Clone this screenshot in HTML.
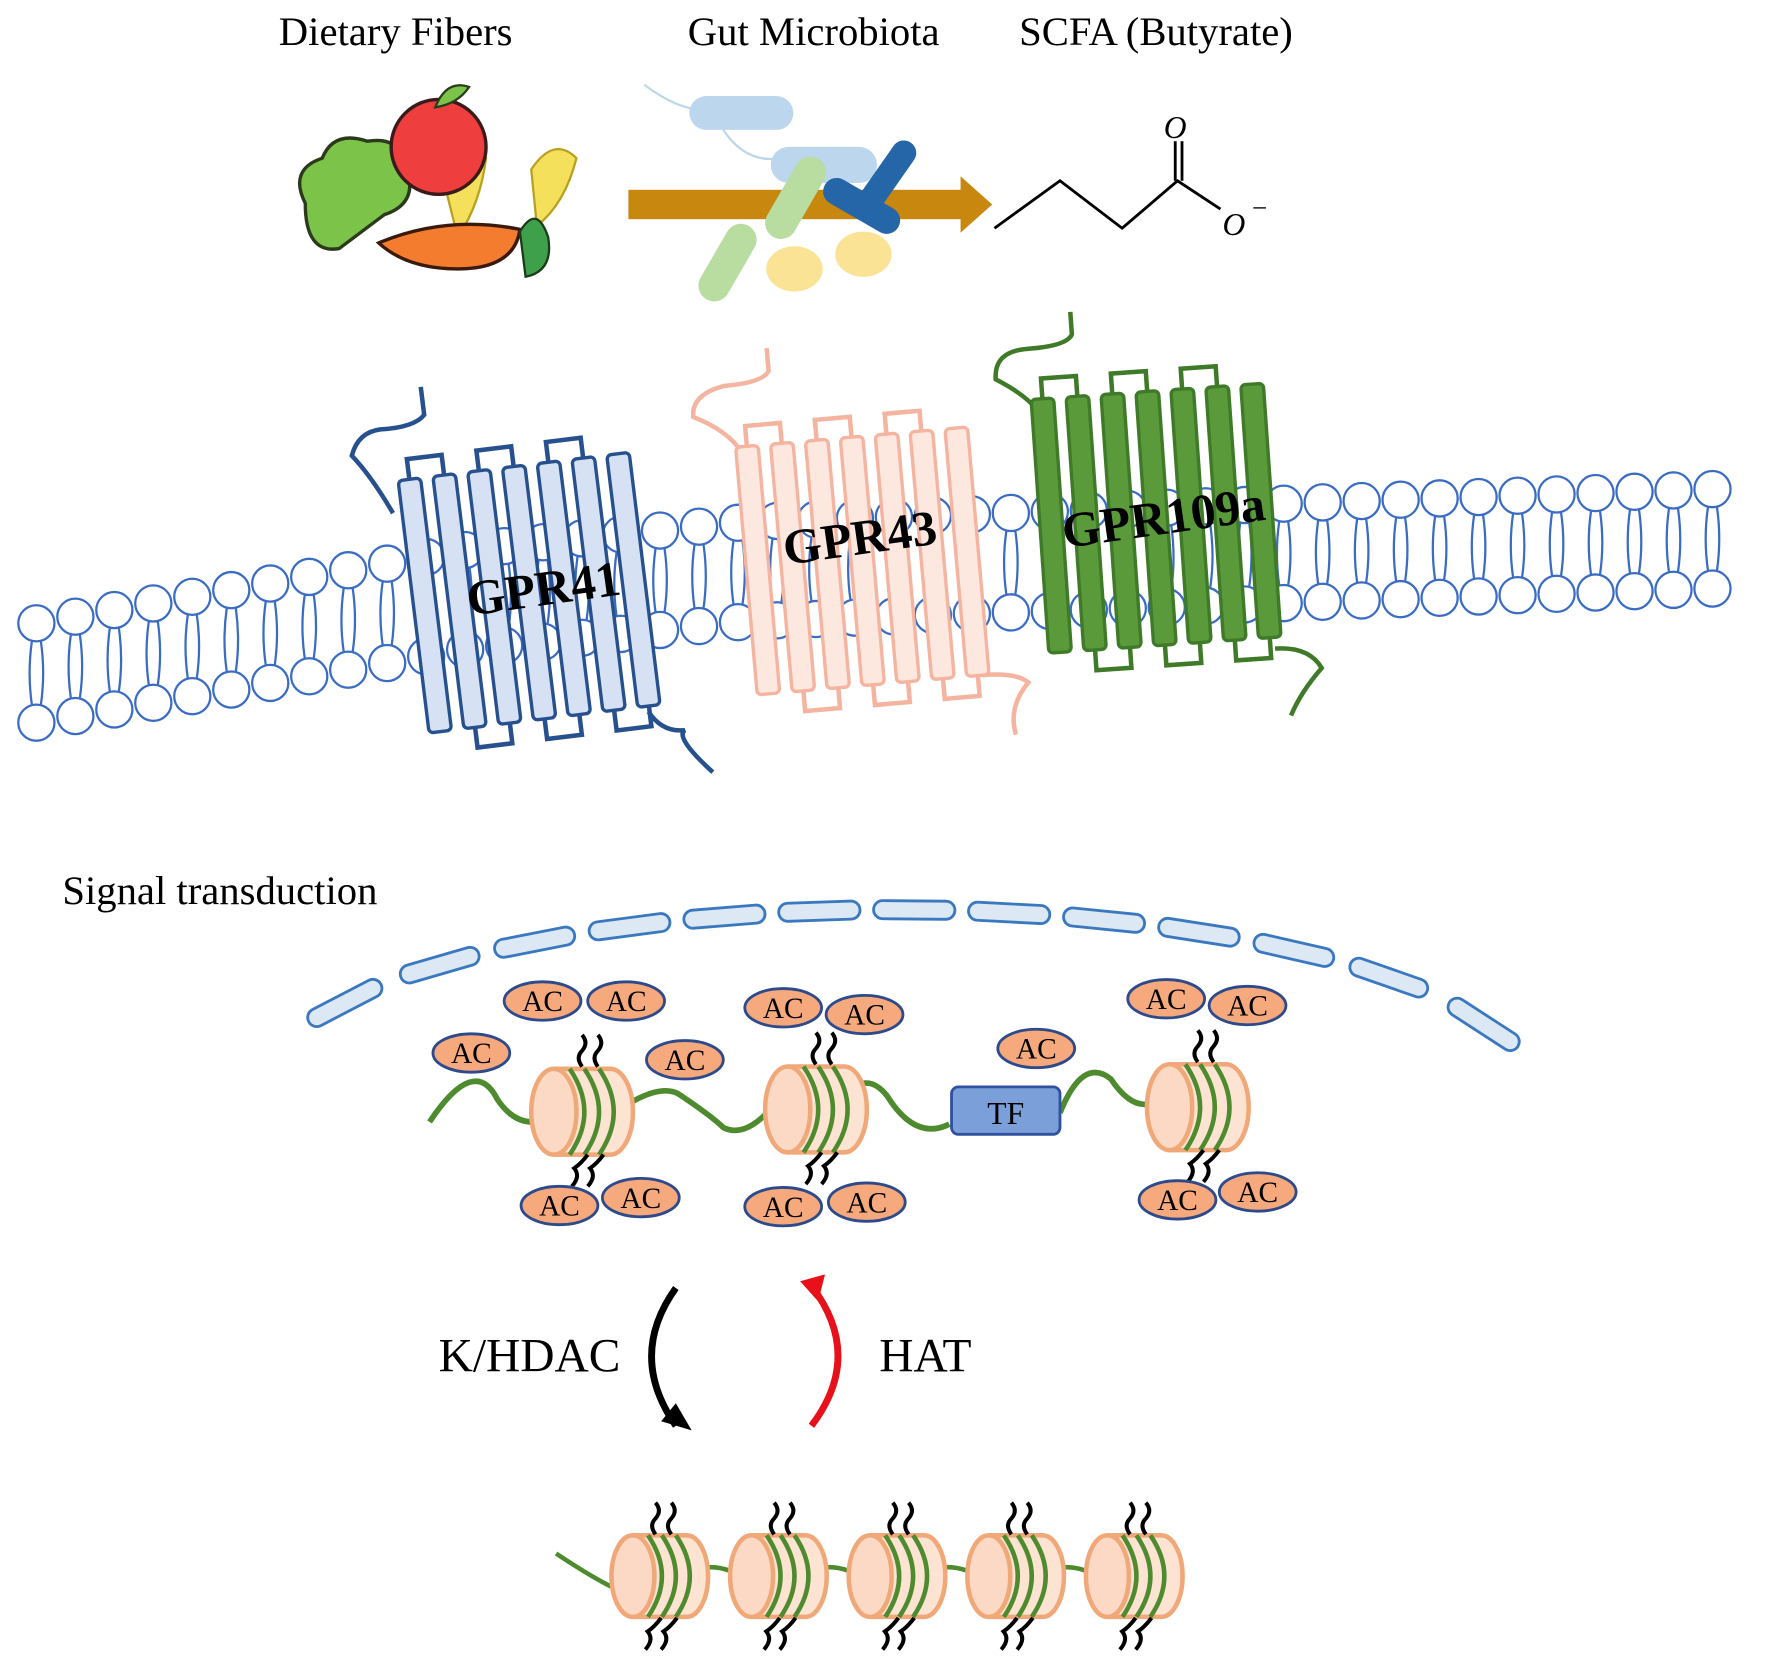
<!DOCTYPE html>
<html><head><meta charset="utf-8"><style>
html,body{margin:0;padding:0;background:#fff;}
svg{display:block;}
text{font-family:"Liberation Serif",serif;}
</style></head><body>
<svg id="s" width="1772" height="1671" viewBox="0 0 1568 1479" xmlns="http://www.w3.org/2000/svg">
<rect width="1568" height="1479" fill="#fff"/>
<g id="mem"></g>
<g id="rec"></g>
<!-- top labels -->
<text x="350" y="40" font-size="36" text-anchor="middle">Dietary Fibers</text>
<text x="720" y="40" font-size="36" text-anchor="middle">Gut Microbiota</text>
<text x="1023" y="40" font-size="36" text-anchor="middle">SCFA (Butyrate)</text>
<!-- food -->
<path d="M270 180 q-15 -30 15 -40 q10 -25 40 -15 q30 -5 35 25 q10 30 -20 40 l-40 30 q-30 5 -30 -40z" fill="#7cc34a" stroke="#2b3a1a" stroke-width="3"/>
<path d="M395 170 q15 -40 35 -30 q-5 40 -25 70z M470 150 q20 -30 40 -10 q-10 40 -35 60z" fill="#f4e05a" stroke="#b8a020" stroke-width="2"/>
<circle cx="388" cy="130" r="42" fill="#ef3e3e" stroke="#3a1a1a" stroke-width="3"/>
<path d="M385 95 q10 -25 30 -18 q-10 15 -30 18z" fill="#7cc34a" stroke="#2b3a1a" stroke-width="2"/>
<path d="M335 215 q60 -25 125 -12 q-5 35 -55 35 q-45 0 -70 -23z" fill="#f47c2f" stroke="#3a1a0a" stroke-width="3"/>
<path d="M460 205 q15 -25 25 5 q5 30 -20 35z" fill="#3ea04a" stroke="#1a3a1a" stroke-width="2"/>
<!-- bacteria + arrow -->
<path d="M570 75 q40 30 70 20 M640 115 q20 30 50 25" stroke="#bcd6ea" stroke-width="2" fill="none"/>
<rect x="610" y="85" width="92" height="30" rx="15" fill="#bcd6ee"/>
<rect x="682" y="130" width="94" height="32" rx="16" fill="#bcd6ee"/>
<rect x="556" y="168" width="295" height="26" fill="#c8870f"/>
<polygon points="850,156 878,181 850,206" fill="#c8870f"/>
<rect x="690" y="135" width="28" height="80" rx="14" transform="rotate(30 704 175)" fill="#b9dca0"/>
<rect x="630" y="195" width="28" height="75" rx="14" transform="rotate(30 644 232)" fill="#b9dca0"/>
<ellipse cx="703" cy="238" rx="25" ry="20" fill="#fae394"/>
<ellipse cx="764" cy="225" rx="25" ry="20" fill="#fae394"/>
<rect x="725" y="170" width="75" height="24" rx="12" transform="rotate(30 762 182)" fill="#2566a8"/>
<rect x="775" y="120" width="22" height="70" rx="11" transform="rotate(35 786 155)" fill="#2566a8"/>
<!-- butyrate -->
<polyline points="880,202 938,160 993,202 1042,160 1080,185" fill="none" stroke="#000" stroke-width="2.5"/>
<line x1="1040" y1="160" x2="1040" y2="125" stroke="#000" stroke-width="2.5"/>
<line x1="1046" y1="160" x2="1046" y2="125" stroke="#000" stroke-width="2.5"/>
<text x="1040" y="122" font-size="28" font-style="italic" font-family="Liberation Sans" text-anchor="middle">O</text>
<text x="1092" y="208" font-size="28" font-style="italic" font-family="Liberation Sans" text-anchor="middle">O</text>
<text x="1108" y="192" font-size="24" font-family="Liberation Sans">−</text>
<!-- labels -->
<text x="55" y="800" font-size="36">Signal transduction</text>
<g id="nuc"></g>
<text x="388" y="1214" font-size="42">K/HDAC</text>
<text x="778" y="1214" font-size="42">HAT</text>
<path d="M598 1140 Q555 1200 598 1262" fill="none" stroke="#000" stroke-width="6"/>
<polygon points="585,1258 612,1266 598,1242" fill="#000"/>
<path d="M718 1262 Q765 1200 718 1138" fill="none" stroke="#e8101a" stroke-width="6"/>
<polygon points="708,1134 730,1128 724,1152" fill="#e8101a"/>
</svg>
<script>
var NS="http://www.w3.org/2000/svg";
function el(p,t,a,txt){var e=document.createElementNS(NS,t);for(var k in a)e.setAttribute(k,a[k]);if(txt)e.textContent=txt;p.appendChild(e);return e;}
var mem=document.getElementById('mem');
function topY(x){ if(x<380) return 552-(x-30)*0.17; if(x<660) return 490-(x-380)*0.1; return 462-(x-660)*0.034;}
for(var x=32;x<1550;x+=34.5){
 var t=topY(x), b=t+88;
 el(mem,'path',{d:'M'+(x-4)+' '+(t+16)+' q-4 28 0 56 M'+(x+4)+' '+(t+16)+' q4 28 0 56',stroke:'#3a6cc4','stroke-width':2,fill:'none'});
 el(mem,'circle',{cx:x,cy:t,r:16,fill:'#fff',stroke:'#3a6cc4','stroke-width':2});
 el(mem,'circle',{cx:x,cy:b,r:16,fill:'#fff',stroke:'#3a6cc4','stroke-width':2});
}
var rec=document.getElementById('rec');
function receptor(x0,y0,h,fill,stroke,label,lx,ly,rot,tail){
 var g=el(rec,'g',{transform:'rotate('+rot+' '+(x0+120)+' '+(y0+h/2)+')'});
 el(g,'path',{d:tail,fill:'none',stroke:stroke,'stroke-width':4});
 for(var i=0;i<7;i++){
  var cx=x0+i*31;
  if(i<6){ var top=(i%2==0);
   if(top) el(g,'path',{d:'M'+(cx+10)+' '+y0+' v-18 h31 v18',fill:'none',stroke:stroke,'stroke-width':4});
   else el(g,'path',{d:'M'+(cx+10)+' '+(y0+h)+' v18 h31 v-18',fill:'none',stroke:stroke,'stroke-width':4});}
  el(g,'rect',{x:cx,y:y0,width:20,height:h,rx:4,fill:fill,stroke:stroke,'stroke-width':3});
 }
 el(rec,'text',{x:lx,y:ly,'font-size':44,'font-weight':'bold',transform:'rotate(-8 '+lx+' '+ly+')'},label);
}
receptor(365,410,225,'#d6e2f4','#27508f','GPR41',415,545,-7,'M395 330 v25 q-10 10 -40 8 q-20 0 -28 20 q15 20 30 55 M560 640 q10 20 30 20 q-10 5 20 40');
receptor(660,385,220,'#fde8e0','#f4b4a0','GPR43',695,500,-5,'M695 300 v20 q-5 10 -40 10 q-30 5 -30 25 q30 15 40 35 M860 605 q30 0 40 10 q-20 20 -15 45');
receptor(920,345,225,'#5a9a3a','#3f7a28','GPR109a',942,485,-4,'M960 270 v20 q-5 10 -40 10 q-30 0 -30 25 q25 15 35 30 M1120 580 q30 0 40 20 q-20 20 -30 40');
var nuc=document.getElementById('nuc');
function envY(x){var u=(x-792)/540; return 930-Math.pow(Math.max(0,1-u*u),0.6)*125;}
for(var i=0;i<13;i++){
 var mx=285+i*84+20, x=mx-36, x2=mx+36;
 var y=envY(x), y2=envY(x2);
 var ang=Math.atan2(y2-y,x2-x)*180/Math.PI; var my=(y+y2)/2;
 el(nuc,'rect',{x:mx-36,y:my-8,width:72,height:16,rx:8,fill:'#dce8f4',stroke:'#3a78c0','stroke-width':2.5,transform:'rotate('+ang+' '+mx+' '+my+')'});
}
function nucleosome(cx,cy,s){
 var w=50*s, ry=38*s, rx=20*s;
 el(nuc,'path',{d:'M'+cx+' '+(cy-ry)+' h'+w+' a'+rx+' '+ry+' 0 0 1 0 '+(2*ry)+' h-'+w,fill:'#fde3d2',stroke:'#f0a878','stroke-width':4});
 el(nuc,'ellipse',{cx:cx,cy:cy,rx:rx,ry:ry,fill:'#fbd9c4',stroke:'#f0a878','stroke-width':4});
 for(var k=0;k<3;k++){var ox=cx+14*s+k*13*s; el(nuc,'path',{d:'M'+ox+' '+(cy-ry)+' q'+(26*s)+' '+ry+' 0 '+(2*ry),fill:'none',stroke:'#4e8a2e','stroke-width':4});}
}
function tails(cx,cy,up){
 for(var k=0;k<2;k++){var x=cx+k*14;
  var d=up?'M'+x+' '+cy+' q-6 -8 0 -14 q6 -7 0 -14':'M'+x+' '+cy+' q-6 8 -12 12 q6 7 -2 16';
  el(nuc,'path',{d:d,fill:'none',stroke:'#000','stroke-width':3.5});}
}
function ac(x,y){el(nuc,'ellipse',{cx:x,cy:y,rx:34,ry:17,fill:'#f5a97c',stroke:'#2e4a8a','stroke-width':2.5});el(nuc,'text',{x:x,y:y+9,'font-size':26,'text-anchor':'middle'},'AC');}
el(nuc,'path',{d:'M380 993 q40 -60 60 -20 q20 30 50 15 M540 988 q40 -30 60 -20 q30 20 40 30 q20 10 45 -20 M745 975 q20 -30 40 -5 q25 40 55 25 M938 985 q20 -50 45 -30 q20 30 40 20',fill:'none',stroke:'#4e8a2e','stroke-width':5});
el(nuc,'rect',{x:842,y:962,width:96,height:42,rx:6,fill:'#7b9fd8',stroke:'#3050a0','stroke-width':2.5});
el(nuc,'text',{x:890,y:995,'font-size':28,'text-anchor':'middle'},'TF');
[[490,984],[697,982],[1035,980]].forEach(function(p){nucleosome(p[0],p[1],1);tails(p[0]+25,p[1]-40,true);tails(p[0]+30,p[1]+38,false);});
ac(417,932);ac(480,886);ac(554,886);ac(606,938);ac(693,892);ac(765,898);ac(917,928);ac(1032,884);ac(1104,890);
ac(495,1067);ac(567,1060);ac(693,1068);ac(767,1064);ac(1042,1062);ac(1113,1055);
var bx=[560,665,770,875,980];
el(nuc,'path',{d:'M492 1375 q30 20 50 30 M605 1405 q10 -25 40 -15 M710 1405 q10 -25 40 -15 M815 1405 q10 -25 40 -15 M920 1405 q10 -25 40 -15',fill:'none',stroke:'#4e8a2e','stroke-width':4});
bx.forEach(function(x){nucleosome(x,1395,0.95);tails(x+20,1358,true);tails(x+25,1432,false);});
</script>
</body></html>
